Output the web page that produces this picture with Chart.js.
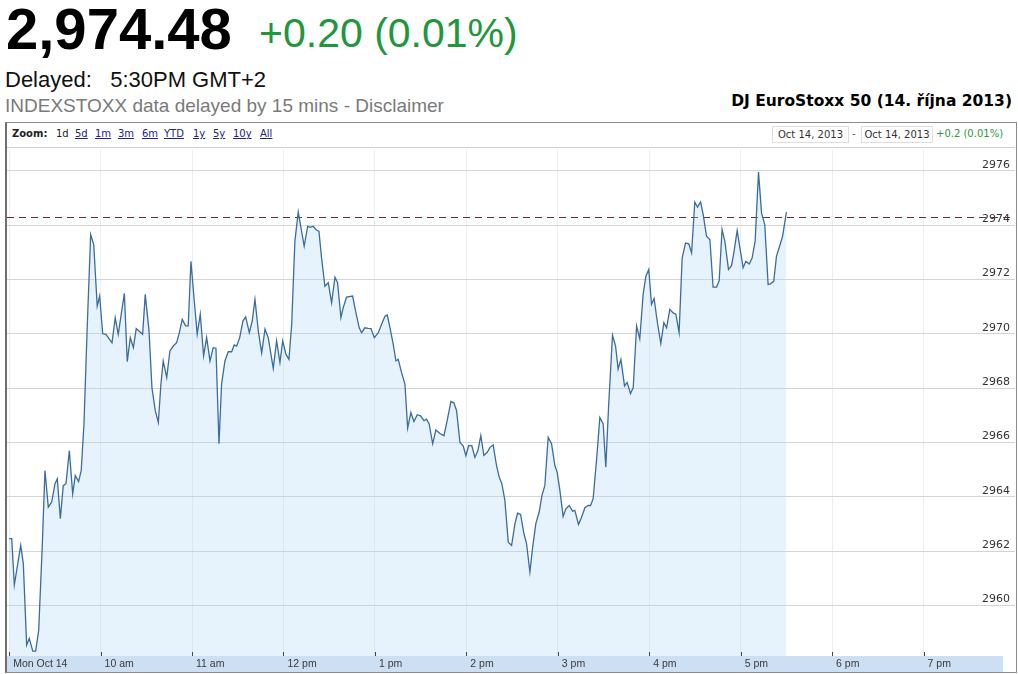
<!DOCTYPE html>
<html><head><meta charset="utf-8">
<script src="https://cdn.jsdelivr.net/npm/chart.js@4.4.0/dist/chart.umd.min.js"></script>
<style>
body{margin:0;width:1018px;height:674px;background:#fff;position:relative;overflow:hidden;font-family:"Liberation Sans",Arial,sans-serif;}
.abs{position:absolute;white-space:nowrap;line-height:1;}
.zb{font-family:"DejaVu Sans",Verdana,sans-serif;font-size:10px;color:#222;}
.lk{color:#22228a;text-decoration:underline;}
.box{position:absolute;top:126px;height:15px;border:1px solid #dedede;font-family:"DejaVu Sans",Verdana,sans-serif;font-size:10px;line-height:15px;color:#333;text-align:center;}
</style></head><body>
<div class="abs" style="left:6px;top:0px;font-size:58px;font-weight:bold;color:#000;">2,974.48</div>
<div class="abs" style="left:259px;top:13px;font-size:41px;color:#21963d;">+0.20 (0.01%)</div>
<div class="abs" style="left:5px;top:69px;font-size:22px;color:#111;">Delayed:&nbsp;&nbsp; 5:30PM GMT+2</div>
<div class="abs" style="left:5px;top:96px;font-size:19px;color:#7a7a7a;">INDEXSTOXX data delayed by 15 mins - Disclaimer</div>
<div class="abs" style="right:6px;top:94px;font-size:15.5px;font-weight:bold;color:#000;font-family:'DejaVu Sans',Verdana,sans-serif;">DJ EuroStoxx 50 (14. října 2013)</div>

<div style="position:absolute;left:5px;top:122px;width:1009px;height:549px;border:1px solid #8c8c8c;border-left:2px solid #6e6e6e;"></div>
<div style="position:absolute;left:7px;top:147px;width:1008px;height:1px;background:#cfcfcf;"></div>

<div class="abs zb" style="left:12px;top:129px;font-weight:bold;">Zoom:</div>
<div class="abs zb" style="left:56px;top:129px;">1d</div>
<div class="abs zb lk" style="left:75px;top:129px;">5d</div>
<div class="abs zb lk" style="left:95px;top:129px;">1m</div>
<div class="abs zb lk" style="left:118px;top:129px;">3m</div>
<div class="abs zb lk" style="left:142px;top:129px;">6m</div>
<div class="abs zb lk" style="left:164px;top:129px;">YTD</div>
<div class="abs zb lk" style="left:193px;top:129px;">1y</div>
<div class="abs zb lk" style="left:213px;top:129px;">5y</div>
<div class="abs zb lk" style="left:233px;top:129px;">10y</div>
<div class="abs zb lk" style="left:260px;top:129px;">All</div>

<div class="box" style="left:772px;width:75px;">Oct 14, 2013</div>
<div class="abs zb" style="left:852px;top:129px;color:#555;">-</div>
<div class="box" style="left:861px;width:70px;">Oct 14, 2013</div>
<div class="abs zb" style="left:936px;top:129px;color:#2a9a3a;">+0.2 (0.01%)</div>

<div style="position:absolute;left:7px;top:148px;width:1008px;height:524px;">
<canvas id="c" width="1008" height="524"></canvas>
</div>

<script>
// minutes after 09:00 (Mon Oct 14, 2013)
const minutesAfterOpen = [
0,1.7,3.4,7.6,9.3,11.5,13.2,15.5,17.4,19.4,21.8,23.5,25.7,27.9,30.1,31.6,33.6,35.5,37.3,39.5,
41.7,43.4,45.6,47.3,49.1,51.3,53.5,55.5,57.8,59.4,61.4,63.5,67.5,69.6,71.6,75.6,77.5,79.5,81.5,83.4,
87.6,89.3,91.8,93.7,95.9,97.9,99.6,101.1,103.4,105.5,107.7,109.9,111.4,113.6,115.8,117.5,119.3,121.5,123.4,125.4,
127.6,129.6,131.8,133.9,135.7,137.7,139.4,141.6,143.8,146,147.7,149.3,151.3,153.4,155.2,157.6,159.5,161.3,163.5,165.7,
167.9,170,173.3,175.5,177.7,179.5,181.6,183.6,185.4,187.5,189.7,191.9,193.6,195.9,197.6,199.5,201.3,203.3,205,207.2,
209.4,211.6,213.8,215.5,217.7,219.2,221.4,225.4,227.3,229.7,231.3,233.4,235.6,237.4,239.6,242.2,244.4,246.6,248.1,249.9,
252,253.8,255.3,257.5,259.7,261.5,263.6,265.6,267.8,270,272.2,273.9,275.6,277.9,280,282.7,285.3,287.4,289.9,291.8,
293.6,295.8,297.9,299.7,301.5,303.6,305.6,307.6,309.5,311.5,313.7,315.5,317.6,319.8,321.6,323.3,325.3,327.5,329.7,331.9,
333.6,335.6,337.8,339.5,341.7,343.5,345.6,347.8,349.6,351.5,353.7,355.9,358.1,359.6,361.4,363.5,365.3,367.5,369.7,371.2,
373.6,375.6,377.8,379.9,381.5,383.2,385.4,387.6,389.8,391.5,393.3,395.9,397.9,399.6,401.4,403.8,405.5,407.7,409.5,411.7,
413.8,416,417.8,419.7,421.5,423.2,425.2,427.6,429.6,431.4,433.5,435.7,437.5,439.6,441.6,443.8,446,447.8,449.9,451.7,
453.7,455.4,457.6,459.8,461.9,464.2,465.9,467.8,469.6,472,474,475.7,477.7,479.5,481.6,483.4,485.6,487.5,489.5,491.7,
493.7,495.8,498,499.6,501.7,503.5,505.2,507.5,510
];
const indexValues = [
2962.46,2962.46,2960.75,2962.21,2961.54,2958.54,2958.79,2958.32,2958.32,2959.09,2962.28,2964.97,2963.62,2963.80,2964.48,2964.66,2963.19,2964.41,2964.48,2965.70,
2964.11,2964.78,2964.56,2964.97,2966.69,2970.35,2973.65,2973.28,2971.02,2971.39,2970.00,2969.98,2969.67,2970.59,2969.98,2971.49,2968.97,2969.86,2969.49,2970.19,
2969.98,2971.45,2970.10,2968.02,2967.17,2966.74,2968.15,2969.00,2968.39,2969.37,2969.55,2969.67,2969.98,2970.53,2970.29,2970.29,2972.67,2971.20,2969.98,2970.72,
2969.19,2969.86,2969.00,2969.49,2969.47,2965.95,2968.15,2969.00,2969.34,2969.34,2969.59,2969.55,2969.86,2970.47,2970.62,2970.04,2970.47,2971.27,2970.10,2969.29,
2970.17,2969.86,2968.73,2969.74,2968.94,2969.74,2969.25,2969.06,2970.35,2973.41,2974.48,2973.77,2973.22,2973.96,2973.92,2973.96,2973.84,2973.77,2972.79,2971.75,
2971.88,2971.14,2972.08,2971.88,2970.59,2970.96,2971.35,2971.39,2970.84,2970.22,2970.04,2970.22,2970.20,2970.19,2969.86,2970.04,2970.35,2970.65,2970.69,2970.22,
2969.62,2969.00,2969.06,2968.57,2968.15,2966.53,2967.10,2966.77,2967.02,2966.98,2966.80,2966.86,2966.68,2965.95,2966.46,2966.33,2966.25,2966.80,2967.51,2967.46,
2967.17,2966.00,2965.88,2965.52,2965.88,2965.88,2965.45,2965.70,2966.25,2965.52,2965.64,2965.82,2965.91,2965.15,2964.72,2964.48,2963.86,2962.33,2962.21,2963.01,
2963.40,2963.35,2962.64,2962.28,2961.23,2962.15,2963.01,2963.44,2964.05,2964.41,2966.19,2965.95,2965.15,2964.90,2964.23,2963.28,2963.56,2963.68,2963.47,2963.50,
2962.98,2963.25,2963.60,2963.68,2963.68,2963.93,2965.33,2966.92,2966.68,2965.09,2967.29,2969.95,2969.55,2968.70,2969.06,2968.08,2968.21,2967.80,2968.02,2970.29,
2969.81,2971.45,2972.12,2972.37,2971.08,2971.30,2970.47,2969.64,2970.41,2970.22,2970.90,2970.77,2970.72,2970.04,2972.79,2973.34,2973.31,2972.98,2974.85,2974.66,
2974.85,2974.39,2973.59,2973.47,2971.72,2971.72,2971.96,2973.84,2973.41,2972.37,2972.51,2973.04,2973.80,2973.16,2972.43,2972.67,2972.57,2972.79,2973.41,2975.95,
2974.44,2974.02,2971.82,2971.84,2971.94,2972.86,2973.16,2973.59,2974.48
];
const previousClose = 2974.28;
const xTickMinutes = [0,60,120,180,240,300,360,420,480,540,600];
const xTickLabels = ['Mon Oct 14','10 am','11 am','12 pm','1 pm','2 pm','3 pm','4 pm','5 pm','6 pm','7 pm'];
const yTickValues = [2960,2962,2964,2966,2968,2970,2972,2974,2976];

const X_MIN = -1.4, X_MAX = 660, Y_MIN = 2958.14, Y_MAX = 2976.78;

const points = minutesAfterOpen.map((t,i)=>({x:t,y:indexValues[i]}));

const bandPlugin = {
  id:'band',
  beforeDraw(chart){
    const {ctx, chartArea} = chart;
    ctx.save();
    ctx.fillStyle = '#cddff3';
    ctx.fillRect(chartArea.left, chartArea.bottom, chartArea.right - chartArea.left - 12, chart.height - chartArea.bottom);
    ctx.restore();
  },
  afterDraw(chart){
    const {ctx, chartArea} = chart;
    const xs = chart.scales.x;
    ctx.save();
    ctx.strokeStyle = '#444';
    ctx.lineWidth = 1;
    xs.ticks.forEach(t=>{
      const px = Math.round(xs.getPixelForValue(t.value)) + 0.5;
      ctx.beginPath();
      ctx.moveTo(px, chartArea.bottom - 4);
      ctx.lineTo(px, chartArea.bottom);
      ctx.stroke();
    });
    ctx.restore();
  }
};

new Chart(document.getElementById('c'), {
  type:'line',
  data:{datasets:[
    {data:points, borderColor:'#3b6c9e', borderWidth:1.3, backgroundColor:'rgba(175,215,245,0.3)', fill:'start', pointRadius:0, tension:0},
    {data:[{x:X_MIN,y:previousClose},{x:X_MAX,y:previousClose}], borderColor:'#6a2c2c', borderWidth:1, borderDash:[7,5], pointRadius:0, fill:false}
  ]},
  options:{
    responsive:false, animation:false,
    plugins:{legend:{display:false}, tooltip:{enabled:false}},
    layout:{padding:0},
    scales:{
      x:{
        type:'linear', min:X_MIN, max:X_MAX,
        afterBuildTicks:s=>{s.ticks = xTickMinutes.map(v=>({value:v}));},
        afterFit:s=>{s.height = 16;},
        ticks:{callback:(v,i)=>xTickLabels[i], align:'start', labelOffset:4, padding:2, maxRotation:0, autoSkip:false,
               font:{family:'Liberation Sans', size:10.5}, color:'#3a3a3a'},
        grid:{color:'#eeeeee', drawTicks:false},
        border:{display:false}
      },
      y:{
        position:'right', min:Y_MIN, max:Y_MAX,
        afterBuildTicks:s=>{s.ticks = yTickValues.map(v=>({value:v}));},
        afterFit:s=>{s.width = 0;},
        ticks:{mirror:true, padding:-5, labelOffset:-6, callback:v=>String(v),
               font:{family:'DejaVu Sans', size:11}, color:'#333'},
        grid:{color:'#d4d4d4', drawTicks:false},
        border:{display:false}
      }
    }
  },
  plugins:[bandPlugin]
});
</script>
</body></html>
